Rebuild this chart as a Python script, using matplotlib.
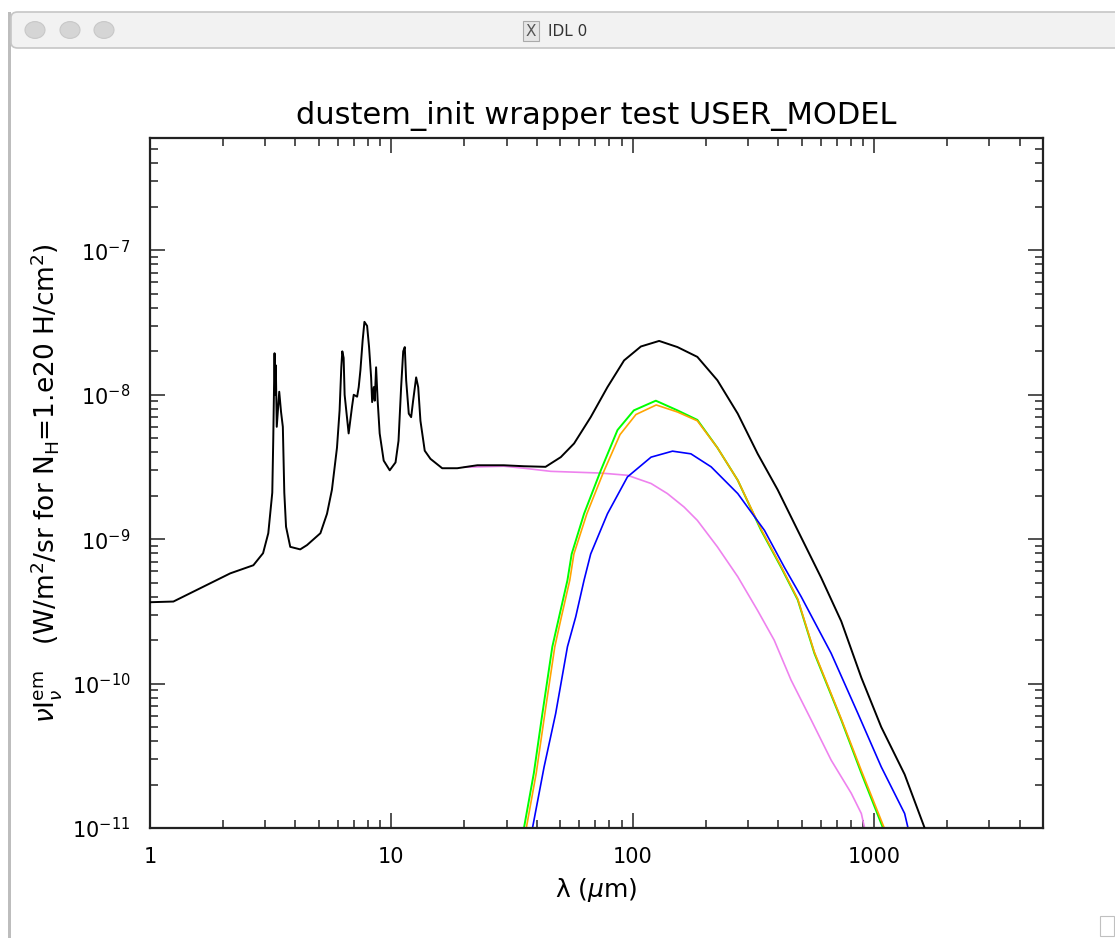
import numpy as np
import matplotlib as mpl
import matplotlib.pyplot as plt
from matplotlib.patches import Rectangle, Circle, FancyBboxPatch
from matplotlib.ticker import LogLocator, FuncFormatter, NullFormatter

mpl.rcParams['font.family'] = 'DejaVu Sans'
mpl.rcParams['mathtext.fontset'] = 'dejavusans'

#-- total SED (black)
lam_tot = [1.0, 1.25, 2.15, 2.68, 2.94, 3.09, 3.21, 3.24, 3.28, 3.30, 3.32, 3.35, 3.43,
           3.49, 3.55, 3.60, 3.66, 3.81, 4.19, 4.47, 5.08, 5.41, 5.67, 5.95, 6.10, 6.20,
           6.26, 6.34, 6.40, 6.65, 6.87, 6.98, 7.21, 7.32, 7.44, 7.60, 7.73, 7.93, 8.08,
           8.24, 8.32, 8.45, 8.53, 8.64, 8.77, 8.94, 9.29, 9.84, 10.4, 10.7, 10.97, 11.19,
           11.36, 11.51, 11.80, 12.07, 12.30, 12.66, 12.91, 13.19, 13.74, 14.51, 16.23,
           18.74, 21.27, 22.7, 29.2, 35.4, 43.5, 50.3, 57.1, 66.9, 78.5, 92.0, 108, 128.5,
           153, 185, 224, 272, 329, 398, 482, 603, 730, 884, 1069, 1336, 1617, 2000]
sed_tot = [3.66e-10, 3.7e-10, 5.8e-10, 6.6e-10, 8.0e-10, 1.1e-9, 2.1e-9, 4.9e-9, 1.94e-8,
           1.0e-8, 1.6e-8, 6e-9, 1.05e-8, 7.6e-9, 6e-9, 2.1e-9, 1.22e-9, 8.85e-10, 8.5e-10,
           9.1e-10, 1.1e-9, 1.5e-9, 2.2e-9, 4.3e-9, 7.8e-9, 1.55e-8, 2.0e-8, 1.8e-8, 1.0e-8,
           5.4e-9, 8.3e-9, 1.0e-8, 9.7e-9, 1.13e-8, 1.48e-8, 2.38e-8, 3.2e-8, 3.0e-8, 2.14e-8,
           1.32e-8, 8.9e-9, 1.13e-8, 9.1e-9, 1.55e-8, 9.1e-9, 5.4e-9, 3.5e-9, 3.0e-9, 3.4e-9,
           4.8e-9, 1.13e-8, 2.0e-8, 2.14e-8, 1.26e-8, 7.4e-9, 7.0e-9, 9.1e-9, 1.32e-8, 1.13e-8,
           6.6e-9, 4.1e-9, 3.6e-9, 3.1e-9, 3.1e-9, 3.2e-9, 3.25e-9, 3.25e-9, 3.2e-9, 3.17e-9,
           3.7e-9, 4.6e-9, 7.0e-9, 1.13e-8, 1.73e-8, 2.16e-8, 2.36e-8, 2.14e-8, 1.83e-8,
           1.26e-8, 7.4e-9, 3.9e-9, 2.2e-9, 1.15e-9, 5.4e-10, 2.7e-10, 1.1e-10, 5.0e-11,
           2.35e-11, 1.0e-11, 4e-12]

#-- small grains (violet)
lam_sg = [20, 29.2, 35.4, 45.7, 73.7, 95.0, 119, 139, 163, 185, 224, 272, 329, 385, 452,
          548, 663, 803, 884, 912, 1000]
sed_sg = [3.15e-9, 3.2e-9, 3.1e-9, 2.95e-9, 2.87e-9, 2.77e-9, 2.43e-9, 2.07e-9, 1.67e-9,
          1.35e-9, 8.85e-10, 5.5e-10, 3.2e-10, 2.0e-10, 1.06e-10, 5.6e-11, 2.95e-11,
          1.74e-11, 1.26e-11, 1.0e-11, 6e-12]

#-- big grains (green)
lam_bg1 = [35.4, 38.9, 42.2, 46.4, 49.5, 53.6, 55.8, 62.8, 73.7, 86.4, 101, 124.5, 153,
           185, 224, 272, 340, 411, 482, 565, 730, 884, 1087, 1200]
sed_bg1 = [1.0e-11, 2.4e-11, 6.2e-11, 1.8e-10, 2.9e-10, 5.2e-10, 7.9e-10, 1.5e-9, 3.0e-9,
           5.7e-9, 7.8e-9, 9.1e-9, 7.8e-9, 6.7e-9, 4.3e-9, 2.56e-9, 1.15e-9, 6.4e-10,
           3.8e-10, 1.62e-10, 5.6e-11, 2.4e-11, 1.0e-11, 6e-12]

#-- big grains (orange)
lam_bg2 = [36.2, 39.8, 43.2, 47.5, 50.6, 54.8, 57.0, 64.5, 75.5, 88.5, 103, 125, 153,
           185, 224, 272, 340, 411, 482, 565, 730, 884, 1100, 1200]
sed_bg2 = [1.0e-11, 2.4e-11, 6.2e-11, 1.8e-10, 2.9e-10, 5.2e-10, 7.9e-10, 1.5e-9, 2.9e-9,
           5.3e-9, 7.3e-9, 8.5e-9, 7.6e-9, 6.6e-9, 4.3e-9, 2.56e-9, 1.17e-9, 6.5e-10,
           3.85e-10, 1.65e-10, 5.7e-11, 2.5e-11, 1.0e-11, 6.5e-12]

#-- big grains (blue)
lam_bg3 = [38.4, 42.9, 47.9, 53.6, 58.0, 62.8, 66.9, 78.5, 95.0, 119, 146, 174, 211, 272,
           351, 424, 498, 663, 856, 1069, 1336, 1380, 1500]
sed_bg3 = [1.0e-11, 2.65e-11, 6.2e-11, 1.8e-10, 2.9e-10, 5.2e-10, 7.9e-10, 1.5e-9, 2.7e-9,
           3.7e-9, 4.07e-9, 3.9e-9, 3.17e-9, 2.07e-9, 1.15e-9, 6.4e-10, 4.0e-10, 1.62e-10,
           6.2e-11, 2.65e-11, 1.26e-11, 1.0e-11, 7e-12]

W, H = 1115, 938
fig = plt.figure(figsize=(W / 100, H / 100), dpi=100)
fig.patch.set_facecolor('white')

#-- window chrome (px -> figure fraction)
def fx(x):
    return x / W
def fy(y):
    return 1 - y / H

fig.add_artist(Rectangle((fx(8), 0), 3 / W, fy(12), transform=fig.transFigure,
                         facecolor='#bdbdbd', edgecolor='none'))
fig.add_artist(FancyBboxPatch((fx(11), fy(48)), 1 - fx(11) + 0.01, 36 / H,
                              boxstyle='round,pad=0,rounding_size=0.006',
                              transform=fig.transFigure, facecolor='#f2f2f2',
                              edgecolor='#c6c6c6', linewidth=1.2))
for cx in [35, 70, 104]:
    fig.add_artist(Circle((fx(cx), fy(30)), 10 / W, transform=fig.transFigure,
                          facecolor='#d5d5d5', edgecolor='#c8c8c8', linewidth=0.8))
fig.text(fx(531), fy(31), 'X', ha='center', va='center', fontsize=11, color='#555555',
         bbox=dict(boxstyle='square,pad=0.15', facecolor='#e6e6e6', edgecolor='#aaaaaa', lw=0.8))
fig.text(fx(548), fy(31), 'IDL 0', ha='left', va='center', fontsize=11, color='#333333')
fig.add_artist(Rectangle((fx(1100), fy(936)), 14 / W, 20 / H, transform=fig.transFigure,
                         facecolor='white', edgecolor='#c0c0c0', linewidth=0.8))

ax = fig.add_axes([fx(150), fy(828), (1043 - 150) / W, (828 - 138) / H])

ax.plot(lam_sg, sed_sg, color='#ee82ee', lw=1.2, zorder=2)
ax.plot(lam_tot, sed_tot, color='black', lw=1.4, zorder=3)
ax.plot(lam_bg1, sed_bg1, color='#00ff00', lw=1.4, zorder=2)
ax.plot(lam_bg2, sed_bg2, color='#ffa500', lw=1.2, zorder=2)
ax.plot(lam_bg3, sed_bg3, color='#0000ff', lw=1.2, zorder=2)

ax.set_xscale('log')
ax.set_yscale('log')
ax.set_xlim(1, 5000)
ax.set_ylim(1e-11, 6e-7)

ax.xaxis.set_major_locator(LogLocator(base=10))
ax.xaxis.set_minor_locator(LogLocator(base=10, subs=np.arange(2, 10)))
ax.yaxis.set_major_locator(LogLocator(base=10))
ax.yaxis.set_minor_locator(LogLocator(base=10, subs=np.arange(2, 10)))
ax.xaxis.set_major_formatter(FuncFormatter(lambda v, p: '%d' % round(v)))
ax.yaxis.set_major_formatter(FuncFormatter(lambda v, p: r'10$^{%d}$' % round(np.log10(v))))
ax.xaxis.set_minor_formatter(NullFormatter())
ax.yaxis.set_minor_formatter(NullFormatter())

ax.tick_params(which='both', direction='in', top=True, right=True, width=1.1, color='#222222')
ax.tick_params(which='major', length=11)
ax.tick_params(which='minor', length=6)
ax.tick_params(axis='x', which='major', labelsize=15, pad=14)
ax.tick_params(axis='y', which='major', labelsize=15, pad=14)
for s in ax.spines.values():
    s.set_linewidth(1.6)
    s.set_color('#222222')

ax.set_title('dustem_init wrapper test USER_MODEL', fontsize=22, pad=10)
ax.set_xlabel(r'$\mathrm{\lambda}$ ($\mu$m)', fontsize=18, labelpad=6)
ax.set_ylabel(r'$\nu\mathrm{I}_\nu^{\mathrm{em}}$   (W/m$^2$/sr for N$_\mathrm{H}$=1.e20 H/cm$^2$)',
              fontsize=19, labelpad=6)

fig.savefig('out.png', dpi=100)
